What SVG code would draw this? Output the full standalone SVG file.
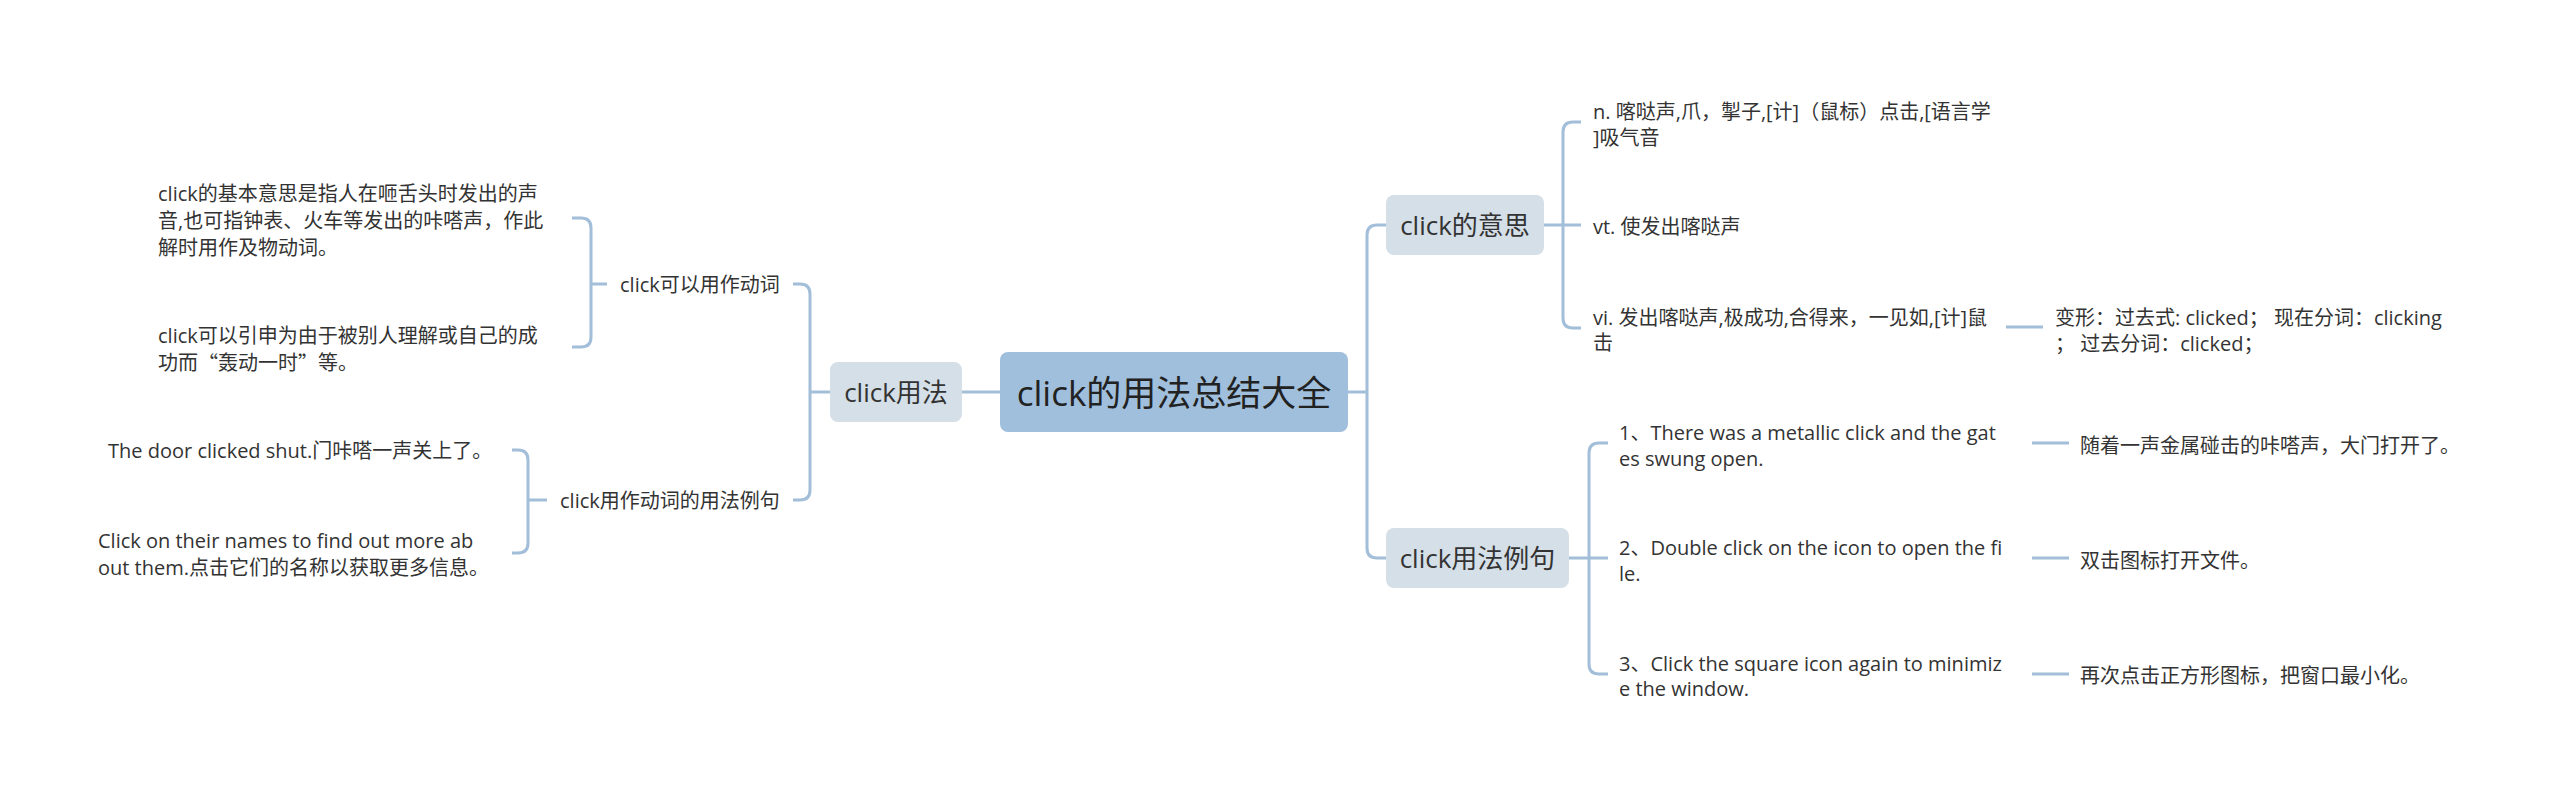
<svg xmlns="http://www.w3.org/2000/svg" width="2560" height="797" viewBox="0 0 2560 797">
<style>
text{font-family:'Open Sans','Noto Sans CJK SC',sans-serif;fill:#333;dominant-baseline:central}
.cjk{font-family:'Noto Sans CJK SC',sans-serif}
.leaf{font-size:20px}
.l1{font-size:26px;text-anchor:middle}
.root{font-size:35px;text-anchor:middle;fill:#222}
.conn path{fill:none;stroke:#a2bed9;stroke-width:3;stroke-linecap:butt}
.n1{fill:#d4dfe8}
.n0{fill:#a0bfdc}
</style>
<rect width="2560" height="797" fill="#ffffff"/>
<g id="connectors" class="conn">
<path d="M1000,392 H962"/>
<path d="M830,392 H810"/>
<path d="M793,284 H800 Q810,284 810,294 V490 Q810,500 800,500 H793"/>
<path d="M572,218 H581 Q591,218 591,228 V337 Q591,347 581,347 H572"/>
<path d="M591,284 H607"/>
<path d="M512,450 H518 Q528,450 528,460 V543 Q528,553 518,553 H512"/>
<path d="M528,500 H547"/>
<path d="M1348,392 H1367"/>
<path d="M1386,225 H1377 Q1367,225 1367,235 V548 Q1367,558 1377,558 H1386"/>
<path d="M1544,225 H1581"/>
<path d="M1581,122 H1573 Q1563,122 1563,132 V318 Q1563,328 1573,328 H1581"/>
<path d="M1569,558 H1608"/>
<path d="M1608,443 H1599 Q1589,443 1589,453 V664 Q1589,674 1599,674 H1608"/>
<path d="M2006,327 H2043"/>
<path d="M2032,443 H2069"/>
<path d="M2032,558 H2069"/>
<path d="M2032,674 H2069"/>
</g>
<g id="root">
<rect class="n0" x="1000" y="352" width="348" height="80" rx="8"/>
<text class="root" x="1174" y="392">click的用法总结大全</text>
</g>
<g id="n-usage">
<rect class="n1" x="830" y="362" width="132" height="60" rx="8"/>
<text class="l1" x="896" y="392">click用法</text>
</g>
<g id="n-meaning">
<rect class="n1" x="1386" y="195" width="158" height="60" rx="8"/>
<text class="l1" x="1465" y="225">click的意思</text>
</g>
<g id="n-examples">
<rect class="n1" x="1386" y="528" width="183" height="60" rx="8"/>
<text class="l1" x="1477.5" y="558">click用法例句</text>
</g>
<g id="n-verb">
<text class="leaf" x="620" y="284">click可以用作动词</text>
</g>
<g id="n-verb-ex">
<text class="leaf" x="560" y="500">click用作动词的用法例句</text>
</g>
<g id="n-basic">
<text class="leaf" x="158" y="193">click的基本意思是指人在咂舌头时发出的声</text>
<text class="leaf" x="158" y="220">音,也可指钟表、火车等发出的咔嗒声，作此</text>
<text class="leaf" x="158" y="247">解时用作及物动词。</text>
</g>
<g id="n-extend">
<text class="leaf" x="158" y="335">click可以引申为由于被别人理解或自己的成</text>
<text class="leaf" x="158" y="362">功而<tspan class="cjk">“</tspan>轰动一时<tspan class="cjk">”</tspan>等。</text>
</g>
<g id="n-door">
<text class="leaf" x="108" y="450">The door clicked shut.门咔嗒一声关上了。</text>
</g>
<g id="n-names">
<text class="leaf" x="98" y="540">Click on their names to find out more ab</text>
<text class="leaf" x="98" y="567">out them.点击它们的名称以获取更多信息。</text>
</g>
<g id="n-noun">
<text class="leaf" x="1593" y="111">n. 喀哒声,爪，掣子,[计]（鼠标）点击,[语言学</text>
<text class="leaf" x="1593" y="137">]吸气音</text>
</g>
<g id="n-vt">
<text class="leaf" x="1593" y="226">vt. 使发出喀哒声</text>
</g>
<g id="n-vi">
<text class="leaf" x="1593" y="317">vi. 发出喀哒声,极成功,合得来，一见如,[计]鼠</text>
<text class="leaf" x="1593" y="342">击</text>
</g>
<g id="n-forms">
<text class="leaf" x="2055" y="317">变形：过去式: clicked； 现在分词：clicking</text>
<text class="leaf" x="2055" y="343">；  过去分词：clicked；</text>
</g>
<g id="n-ex1">
<text class="leaf" x="1619" y="432">1、There was a metallic click and the gat</text>
<text class="leaf" x="1619" y="458">es swung open.</text>
</g>
<g id="n-ex2">
<text class="leaf" x="1619" y="547">2、Double click on the icon to open the fi</text>
<text class="leaf" x="1619" y="573">le.</text>
</g>
<g id="n-ex3">
<text class="leaf" x="1619" y="663">3、Click the square icon again to minimiz</text>
<text class="leaf" x="1619" y="688">e the window.</text>
</g>
<g id="n-tr1">
<text class="leaf" x="2080" y="445">随着一声金属碰击的咔嗒声，大门打开了。</text>
</g>
<g id="n-tr2">
<text class="leaf" x="2080" y="560">双击图标打开文件。</text>
</g>
<g id="n-tr3">
<text class="leaf" x="2080" y="675">再次点击正方形图标，把窗口最小化。</text>
</g>
</svg>
